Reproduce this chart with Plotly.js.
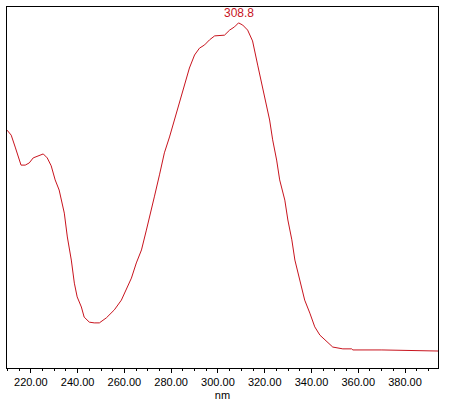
<!DOCTYPE html>
<html>
<head>
<meta charset="utf-8">
<script src="https://cdn.plot.ly/plotly-3.0.1.min.js"></script>
<style>html,body{margin:0;padding:0;background:#fff;}#chart{width:451px;height:409px;}</style>
</head>
<body>
<div id="chart"></div>
<script>
// Wavelength (nm)
const wavelength = [209.8,211.6,213.3,215.8,217.6,219.3,221.0,223.6,225.3,227.0,228.7,230.4,232.1,234.3,235.6,237.3,238.6,239.8,241.6,242.8,245.0,247.1,249.3,252.3,255.7,258.7,260.8,263.0,265.1,267.3,269.4,271.6,272.8,275.0,277.1,279.3,281.4,283.6,285.7,287.8,290.0,292.1,294.3,296.4,298.6,300.7,302.8,305.0,307.1,308.8,310.6,312.7,314.8,317.0,319.1,320.8,322.1,323.4,325.1,326.4,328.6,329.9,331.6,332.9,335.0,337.1,339.3,341.4,343.6,346.6,349.1,353.4,357.2,357.7,370.1,394.1];
// Absorbance (arbitrary units)
const absorbance = [0.659,0.645,0.612,0.562,0.562,0.568,0.582,0.590,0.593,0.582,0.560,0.521,0.493,0.429,0.363,0.299,0.235,0.197,0.169,0.141,0.127,0.125,0.125,0.139,0.161,0.188,0.216,0.249,0.291,0.327,0.382,0.438,0.474,0.535,0.596,0.640,0.687,0.740,0.784,0.831,0.867,0.886,0.895,0.909,0.920,0.922,0.922,0.936,0.945,0.956,0.950,0.936,0.906,0.839,0.778,0.734,0.687,0.632,0.576,0.521,0.465,0.410,0.355,0.299,0.244,0.188,0.152,0.114,0.091,0.072,0.058,0.053,0.053,0.050,0.050,0.047];
const peakLabel = "308.8";
const peakX = 308.8;
const peakY = 0.956;
const xTitle = "nm";

const red = "#c8141e";
Plotly.newPlot("chart", [{
  x: wavelength, y: absorbance, type: "scatter", mode: "lines",
  line: {color: red, width: 1}, hoverinfo: "skip"
}], {
  width: 451, height: 409,
  margin: {l: 7, r: 13, t: 7, b: 41, pad: 0},
  paper_bgcolor: "#fff", plot_bgcolor: "#fff",
  showlegend: false,
  font: {family: "Liberation Sans, Arial, sans-serif", size: 11, color: "#000"},
  xaxis: {
    range: [209.8, 394.1], showgrid: false, zeroline: false,
    showline: true, mirror: true, linecolor: "#000", linewidth: 1,
    ticks: "outside", ticklen: 4, tickcolor: "#000", tickwidth: 1,
    dtick: 20, tick0: 0, tickformat: ".2f",
    tickfont: {size: 11, color: "#000"},
    minor: {dtick: 5, tick0: 0, ticks: "outside", ticklen: 2, tickcolor: "#000", showgrid: false},
    title: {text: xTitle, font: {size: 11, color: "#000"}, standoff: 4}
  },
  yaxis: {
    range: [0, 1], showgrid: false, zeroline: false,
    showline: true, mirror: true, linecolor: "#000", linewidth: 1,
    ticks: "", showticklabels: false
  },
  annotations: [{
    x: peakX, y: peakY, xref: "x", yref: "y", text: peakLabel, showarrow: false,
    yanchor: "bottom", xanchor: "center", yshift: 1,
    font: {size: 12, color: red}
  }]
}, {staticPlot: true, displayModeBar: false});
</script>
</body>
</html>
